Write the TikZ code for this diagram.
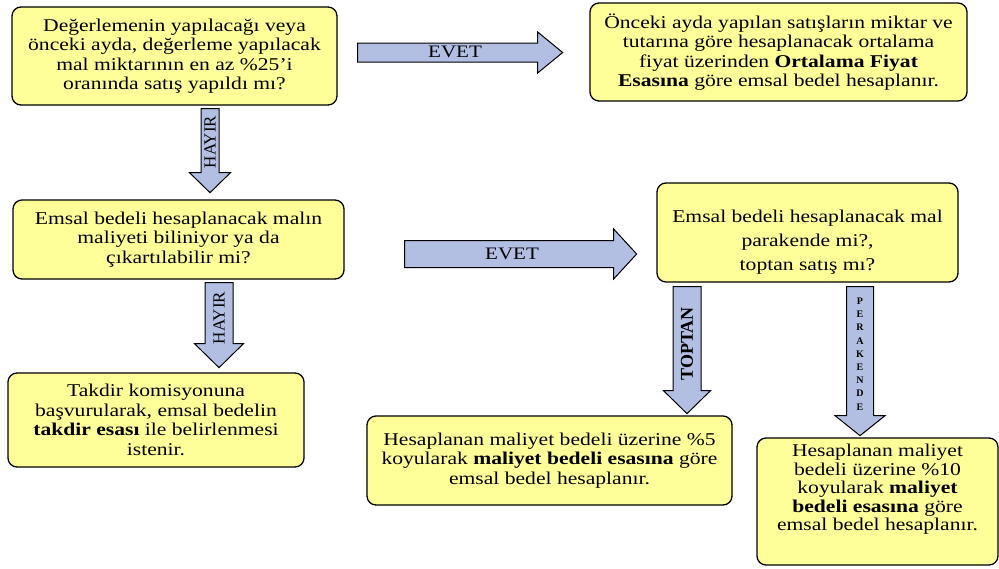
\documentclass[tikz,border=0pt]{standalone}
\usepackage{fontspec}
\setmainfont{Liberation Serif}[FakeStretch=1.2]
\newfontfamily\plainserif{Liberation Serif}
\usetikzlibrary{positioning}

\definecolor{boxyellow}{RGB}{255,255,153}
\definecolor{arrowblue}{RGB}{178,190,226}

\begin{document}
\begin{tikzpicture}[
  x=1pt, y=1pt,
  box/.style={rectangle, rounded corners=9pt, draw, line width=1.3pt,
              fill=boxyellow, align=center, inner sep=0pt,
              font=\fontsize{18}{19.5}\selectfont},
  arrowbody/.style={draw, line width=1pt, fill=arrowblue, line join=miter},
  arrowtext/.style={inner sep=0pt, font=\fontsize{17.5}{18}\selectfont},
  uplabel/.style={inner sep=0pt, rotate=90, font=\plainserif\fontsize{17}{17}\selectfont},
  pics/blockarrow/.style n args={4}{code={
    \draw[arrowbody] (0,{-#2/2}) -- ({#1-#4},{-#2/2}) -- ({#1-#4},{-#3/2})
      -- (#1,0) -- ({#1-#4},{#3/2}) -- ({#1-#4},{#2/2}) -- (0,{#2/2}) -- cycle;
  }},
]
  \useasboundingbox (0,0) rectangle (999,-568);

  % question boxes
  \node[box, minimum width=325pt, minimum height=98pt] (qa) at (174.5,-56)
    {Değerlemenin yapılacağı veya\\ önceki ayda, değerleme yapılacak\\
     mal miktarının en az \%25’i\\ oranında satış yapıldı mı?};
  \node[box, minimum width=377pt, minimum height=98pt] (avg) at (778.5,-52)
    {Önceki ayda yapılan satışların miktar ve\\ tutarına göre hesaplanacak ortalama\\
     fiyat üzerinden \textbf{Ortalama Fiyat}\\ \textbf{Esasına} göre emsal bedel hesaplanır.};
  \node[box, minimum width=331pt, minimum height=79pt] (qc) at (178.5,-239.5)
    {Emsal bedeli hesaplanacak malın\\ maliyeti biliniyor ya da\\ çıkartılabilir mi?};
  \node[box, minimum width=301pt, minimum height=99pt,
        font=\fontsize{18}{24}\selectfont] (qd) at (807.5,-232.5)
    {\rule{0pt}{31pt}Emsal bedeli hesaplanacak mal\\ parakende mi?,\\ toptan satış mı?};

  % result boxes
  \node[box, minimum width=296pt, minimum height=94pt] (takdir) at (156,-420)
    {Takdir komisyonuna\\ başvurularak, emsal bedelin\\
     \textbf{takdir esası} ile belirlenmesi\\ istenir.};
  \node[box, minimum width=365pt, minimum height=89pt] (toptan) at (549.5,-460.5)
    {Hesaplanan maliyet bedeli üzerine \%5\\
     koyularak \textbf{maliyet bedeli esasına} göre\\ emsal bedel hesaplanır.};
  \node[box, minimum width=241pt, minimum height=127pt,
        font=\fontsize{18}{18.5}\selectfont] (perakende) at (877.5,-501.5)
    {Hesaplanan maliyet\\ bedeli üzerine \%10\\ koyularak \textbf{maliyet}\\
     \textbf{bedeli esasına} göre\\ emsal bedel hesaplanır.\rule[-28pt]{0pt}{0pt}};

  % block arrows
  \pic at ([shift={(20,3.5)}]qa.east) {blockarrow={205}{19}{41}{25}};
  \pic[rotate=-90] at ([shift={(35.5,-3)}]qa.south) {blockarrow={84}{18}{41}{20}};
  \pic at ([shift={(60,-14.5)}]qc.east) {blockarrow={232}{27}{50}{23}};
  \pic[rotate=-90] at ([shift={(40.5,-3)}]qc.south) {blockarrow={85}{28}{49}{24}};
  \pic[rotate=-90] at ([shift={(-120.5,-4)}]qd.south) {blockarrow={127}{28}{47}{23}};
  \pic[rotate=-90] at ([shift={(52.5,-4)}]qd.south) {blockarrow={149}{27}{50}{20}};

  % arrow labels
  \node[arrowtext] (evet1) at (455,-52) {EVET};
  \node[arrowtext] (evet2) at (512,-254) {EVET};
  \node[uplabel] (hayir1) at (210,-142) {HAYIR};
  \node[uplabel] (hayir2) at (219,-318) {HAYIR};
  \node[uplabel, font=\plainserif\fontsize{18}{18}\selectfont\bfseries] (lbtoptan) at (687,-344) {TOPTAN};
  \node[arrowtext, align=center, font=\plainserif\fontsize{10}{13.2}\selectfont\bfseries] (lbperakende) at (860,-354)
    {P\\E\\R\\A\\K\\E\\N\\D\\E};
\end{tikzpicture}
\end{document}
